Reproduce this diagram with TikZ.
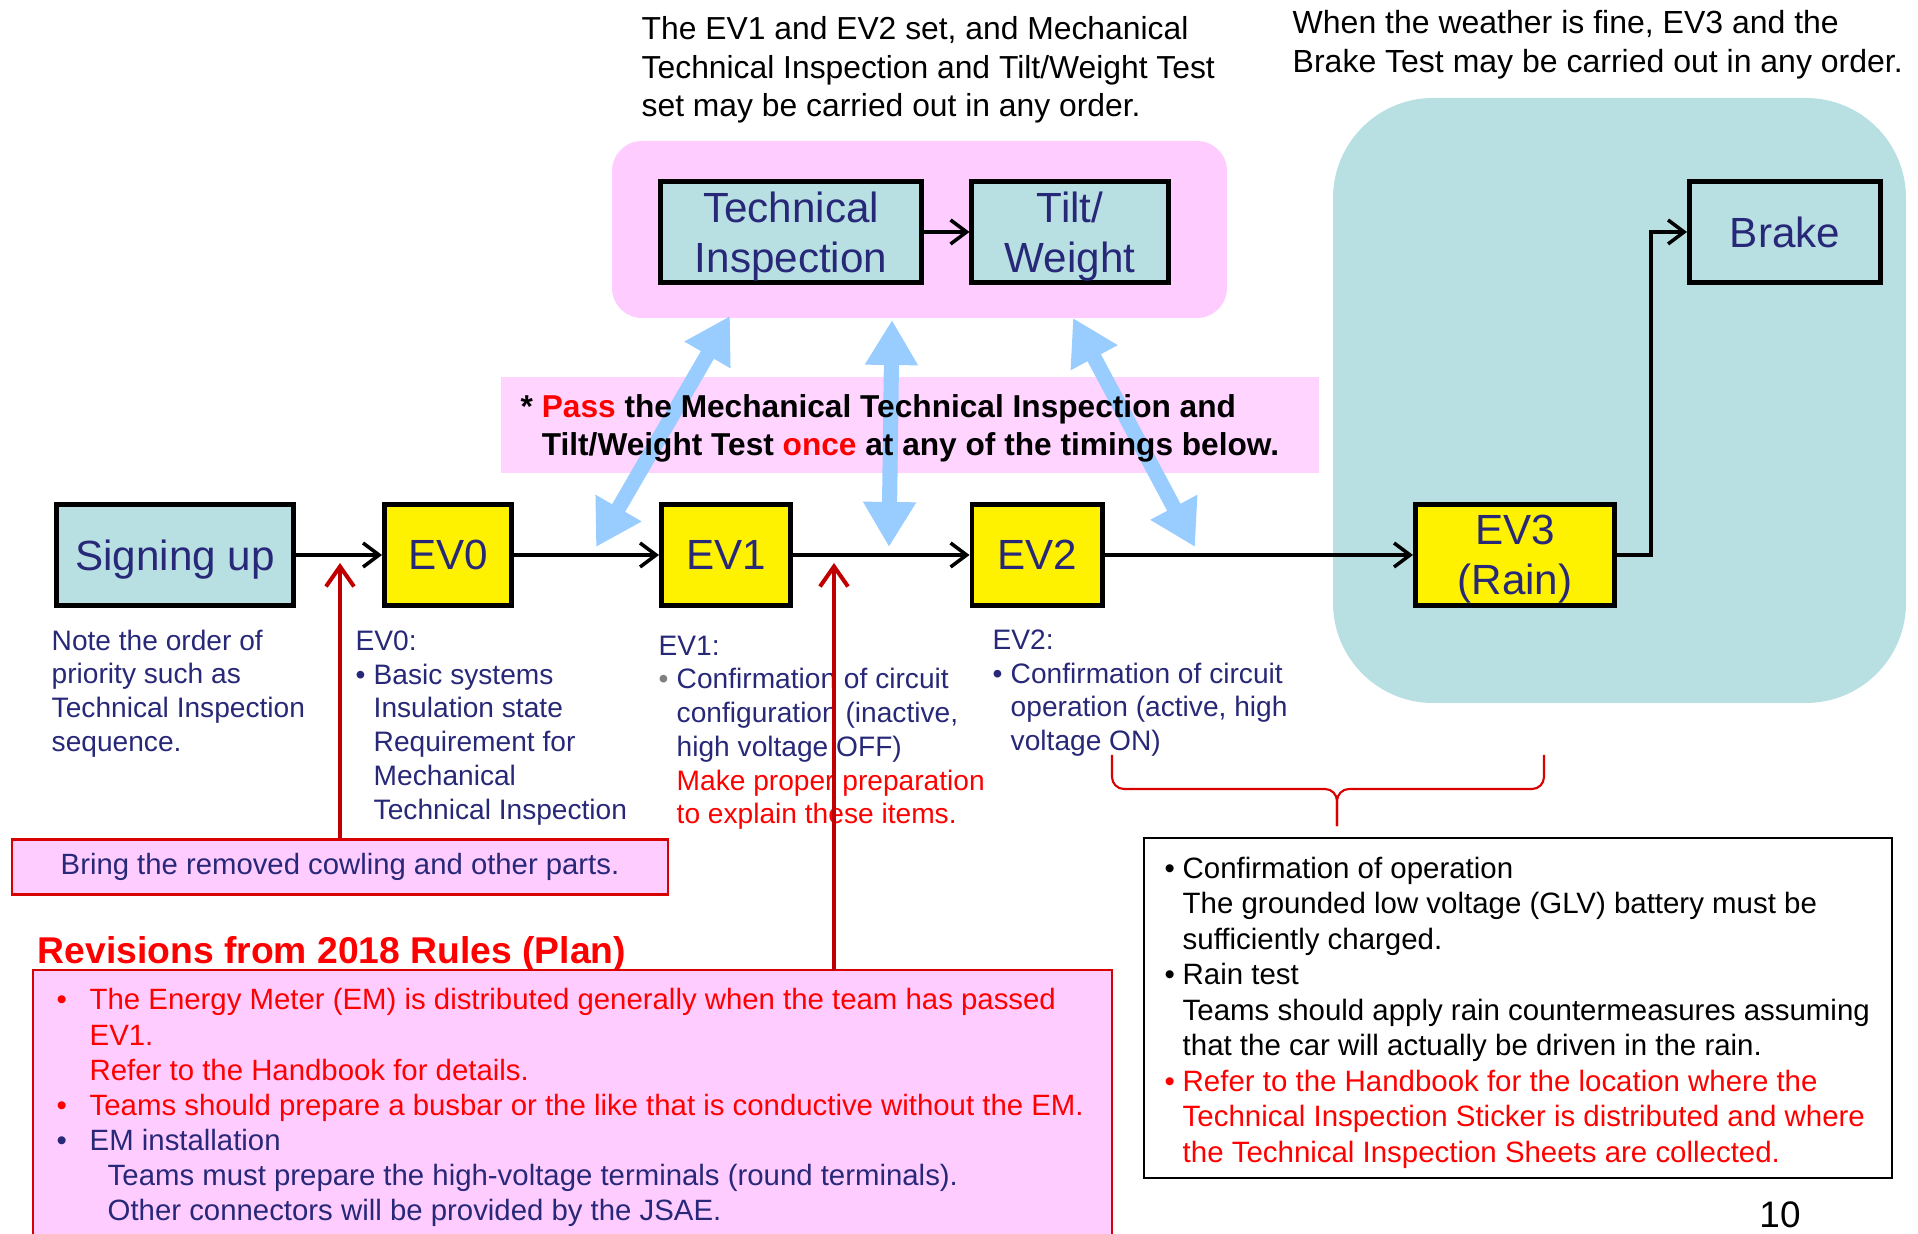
\documentclass[tikz,border=0pt]{standalone}
\usepackage{fontspec}
\setmainfont{Liberation Sans}
\usetikzlibrary{arrows.meta}

\definecolor{navy}{RGB}{40,40,120}
\definecolor{boxteal}{RGB}{184,224,226}
\definecolor{pinkfill}{RGB}{255,204,255}
\definecolor{skyblue}{RGB}{153,204,255}
\definecolor{darkred}{RGB}{192,0,0}
\newcommand{\bul}[1]{\makebox[#1][l]{\textbullet}}

\begin{document}
\begin{tikzpicture}[x=0.01cm,y=-0.01cm,
  box/.style={draw=black,line width=1.4pt,text=navy,font=\fontsize{12}{14.3}\selectfont,align=center,inner sep=0pt,minimum height=1.01cm,text depth=0pt},
  stage/.style={box,fill=yellow},
  test/.style={box,fill=boxteal},
  flow/.style={line width=1pt,-{Straight Barb[length=1.6mm,width=2.4mm]}},
  twoway/.style={line width=4.3pt,skyblue,{Triangle[length=4.5mm,width=5mm]}-{Triangle[length=4.5mm,width=5mm]}},
  remark/.style={line width=1.15pt,darkred,-{Straight Barb[length=2mm,width=2.8mm]}},
  note/.style={anchor=north west,align=left,inner sep=0pt,text=navy,font=\fontsize{8}{9.6}\selectfont},
  pinkbox/.style={fill=pinkfill,draw=red!85!black,line width=0.6pt}]
\useasboundingbox (0,0) rectangle (1918,1234);

\fill[boxteal,rounded corners=1cm] (1333,98) rectangle (1906,703);
\fill[pinkfill,rounded corners=0.3cm] (612,141) rectangle (1227,318);
\fill[pinkfill!85!white] (501,377) rectangle (1319,473);

\node[test,minimum width=2.37cm] (signup) at (175,555) {Signing up};
\node[stage,minimum width=1.27cm] (ev0) at (448,555) {EV0};
\node[stage,minimum width=1.29cm] (ev1) at (726,555) {EV1};
\node[stage,minimum width=1.30cm] (ev2) at (1037,555) {EV2};
\node[stage,minimum width=1.99cm] (ev3) at (1515,555) {EV3\\(Rain)};
\node[test,minimum width=2.60cm] (tech) at (791,232) {Technical\\Inspection};
\node[test,minimum width=1.96cm] (tilt) at (1070,232) {Tilt/\\Weight};
\node[test,minimum width=1.91cm] (brake) at (1785,232) {Brake};

\draw[flow] (signup) -- (ev0);
\draw[flow] (ev0) -- (ev1);
\draw[flow] (ev1) -- (ev2);
\draw[flow] (ev2) -- (ev3);
\draw[flow] (tech) -- (tilt);
\draw[flow] (ev3.east) -- ++(34,0) |- (brake);

\coordinate (up1) at (730,316);
\coordinate (dn1) at (596,547);
\coordinate (up2) at (892,320);
\coordinate (dn2) at (889,547);
\coordinate (up3) at (1073,318);
\coordinate (dn3) at (1195,547);
\draw[twoway] (dn1) -- (up1);
\draw[twoway] (dn2) -- (up2);
\draw[twoway] (dn3) -- (up3);

\node[anchor=north west,inner sep=0pt,align=left,font=\bfseries\fontsize{9}{10.8}\selectfont] (pass) at (520,394) {* \textcolor{red}{Pass} the Mechanical Technical Inspection and\\\phantom{* }Tilt/Weight Test \textcolor{red}{once} at any of the timings below.};

\node[anchor=north west,inner sep=0pt,align=left,font=\fontsize{9.05}{10.9}\selectfont] (ordernote) at (641,16) {The EV1 and EV2 set, and Mechanical\\Technical Inspection and Tilt/Weight Test\\set may be carried out in any order.};
\node[anchor=north west,inner sep=0pt,align=left,font=\fontsize{9.1}{10.9}\selectfont] (weathernote) at (1292,10) {When the weather is fine, EV3 and the\\Brake Test may be carried out in any order.};

\node[note] (signnote) at (51,629) {Note the order of\\priority such as\\Technical Inspection\\sequence.};
\node[note] (ev0note) at (355,630) {EV0:\\\bul{0.18cm}Basic systems\\\hspace*{0.18cm}Insulation state\\\hspace*{0.18cm}Requirement for\\\hspace*{0.18cm}Mechanical\\\hspace*{0.18cm}Technical Inspection};
\node[note] (ev1note) at (658,635) {EV1:\\\makebox[0.18cm][l]{\textcolor{gray}{\textbullet}}Confirmation of circuit\\\hspace*{0.18cm}configuration (inactive,\\\hspace*{0.18cm}high voltage OFF)\\\hspace*{0.18cm}\textcolor{red}{Make proper preparation}\\\hspace*{0.18cm}\textcolor{red}{to explain these items.}};
\node[note] (ev2note) at (992,629) {EV2:\\\bul{0.18cm}Confirmation of circuit\\\hspace*{0.18cm}operation (active, high\\\hspace*{0.18cm}voltage ON)};

\node[pinkbox,minimum width=6.56cm,minimum height=0.55cm,inner sep=0pt,text=navy,font=\fontsize{8.33}{9.6}\selectfont] (bring) at (340,867) {Bring the removed cowling and other parts.};

\node[anchor=north west,inner sep=0pt,red,font=\bfseries\fontsize{10.6}{12}\selectfont] (revtitle) at (37,936) {Revisions from 2018 Rules (Plan)};
\draw[pinkbox] (33,970) rectangle (1112,1250);
\node[note,text=red,font=\fontsize{8.35}{10}\selectfont] (revnote) at (56,988) {\bul{0.33cm}The Energy Meter (EM) is distributed generally when the team has passed\\\hspace*{0.33cm}EV1.\\\hspace*{0.33cm}Refer to the Handbook for details.\\\bul{0.33cm}Teams should prepare a busbar or the like that is conductive without the EM.\\\textcolor{navy}{\bul{0.33cm}EM installation}\\\hspace*{0.51cm}\textcolor{navy}{Teams must prepare the high-voltage terminals (round terminals).}\\\hspace*{0.51cm}\textcolor{navy}{Other connectors will be provided by the JSAE.}};

\coordinate (ev0mark) at (340,563);
\coordinate (ev1mark) at (834,563);
\coordinate (revtop) at (834,970);
\draw[remark] (bring) -- (ev0mark);
\draw[remark] (revtop) -- (ev1mark);

\draw[line width=0.6pt] (1144,838) rectangle (1892,1178);
\node[note,text=black,font=\fontsize{8.37}{10.1}\selectfont] (rainnote) at (1164,856) {\bul{0.18cm}Confirmation of operation\\\hspace*{0.18cm}The grounded low voltage (GLV) battery must be\\\hspace*{0.18cm}sufficiently charged.\\\bul{0.18cm}Rain test\\\hspace*{0.18cm}Teams should apply rain countermeasures assuming\\\hspace*{0.18cm}that the car will actually be driven in the rain.\\\textcolor{red}{\bul{0.18cm}Refer to the Handbook for the location where the}\\\hspace*{0.18cm}\textcolor{red}{Technical Inspection Sticker is distributed and where}\\\hspace*{0.18cm}\textcolor{red}{the Technical Inspection Sheets are collected.}};

\coordinate (brl) at (1112,755);
\coordinate (brr) at (1544,755);
\coordinate (brtip) at (1337,826);
\draw[red!85!black,line width=0.6pt,rounded corners=0.12cm] (brl) |- (brtip |- 0,789) -- (brtip);
\draw[red!85!black,line width=0.6pt,rounded corners=0.12cm] (brr) |- (brtip |- 0,789) -- (brtip);

\node[font=\fontsize{10.5}{12}\selectfont] (page) at (1780,1215) {10};
\end{tikzpicture}
\end{document}
